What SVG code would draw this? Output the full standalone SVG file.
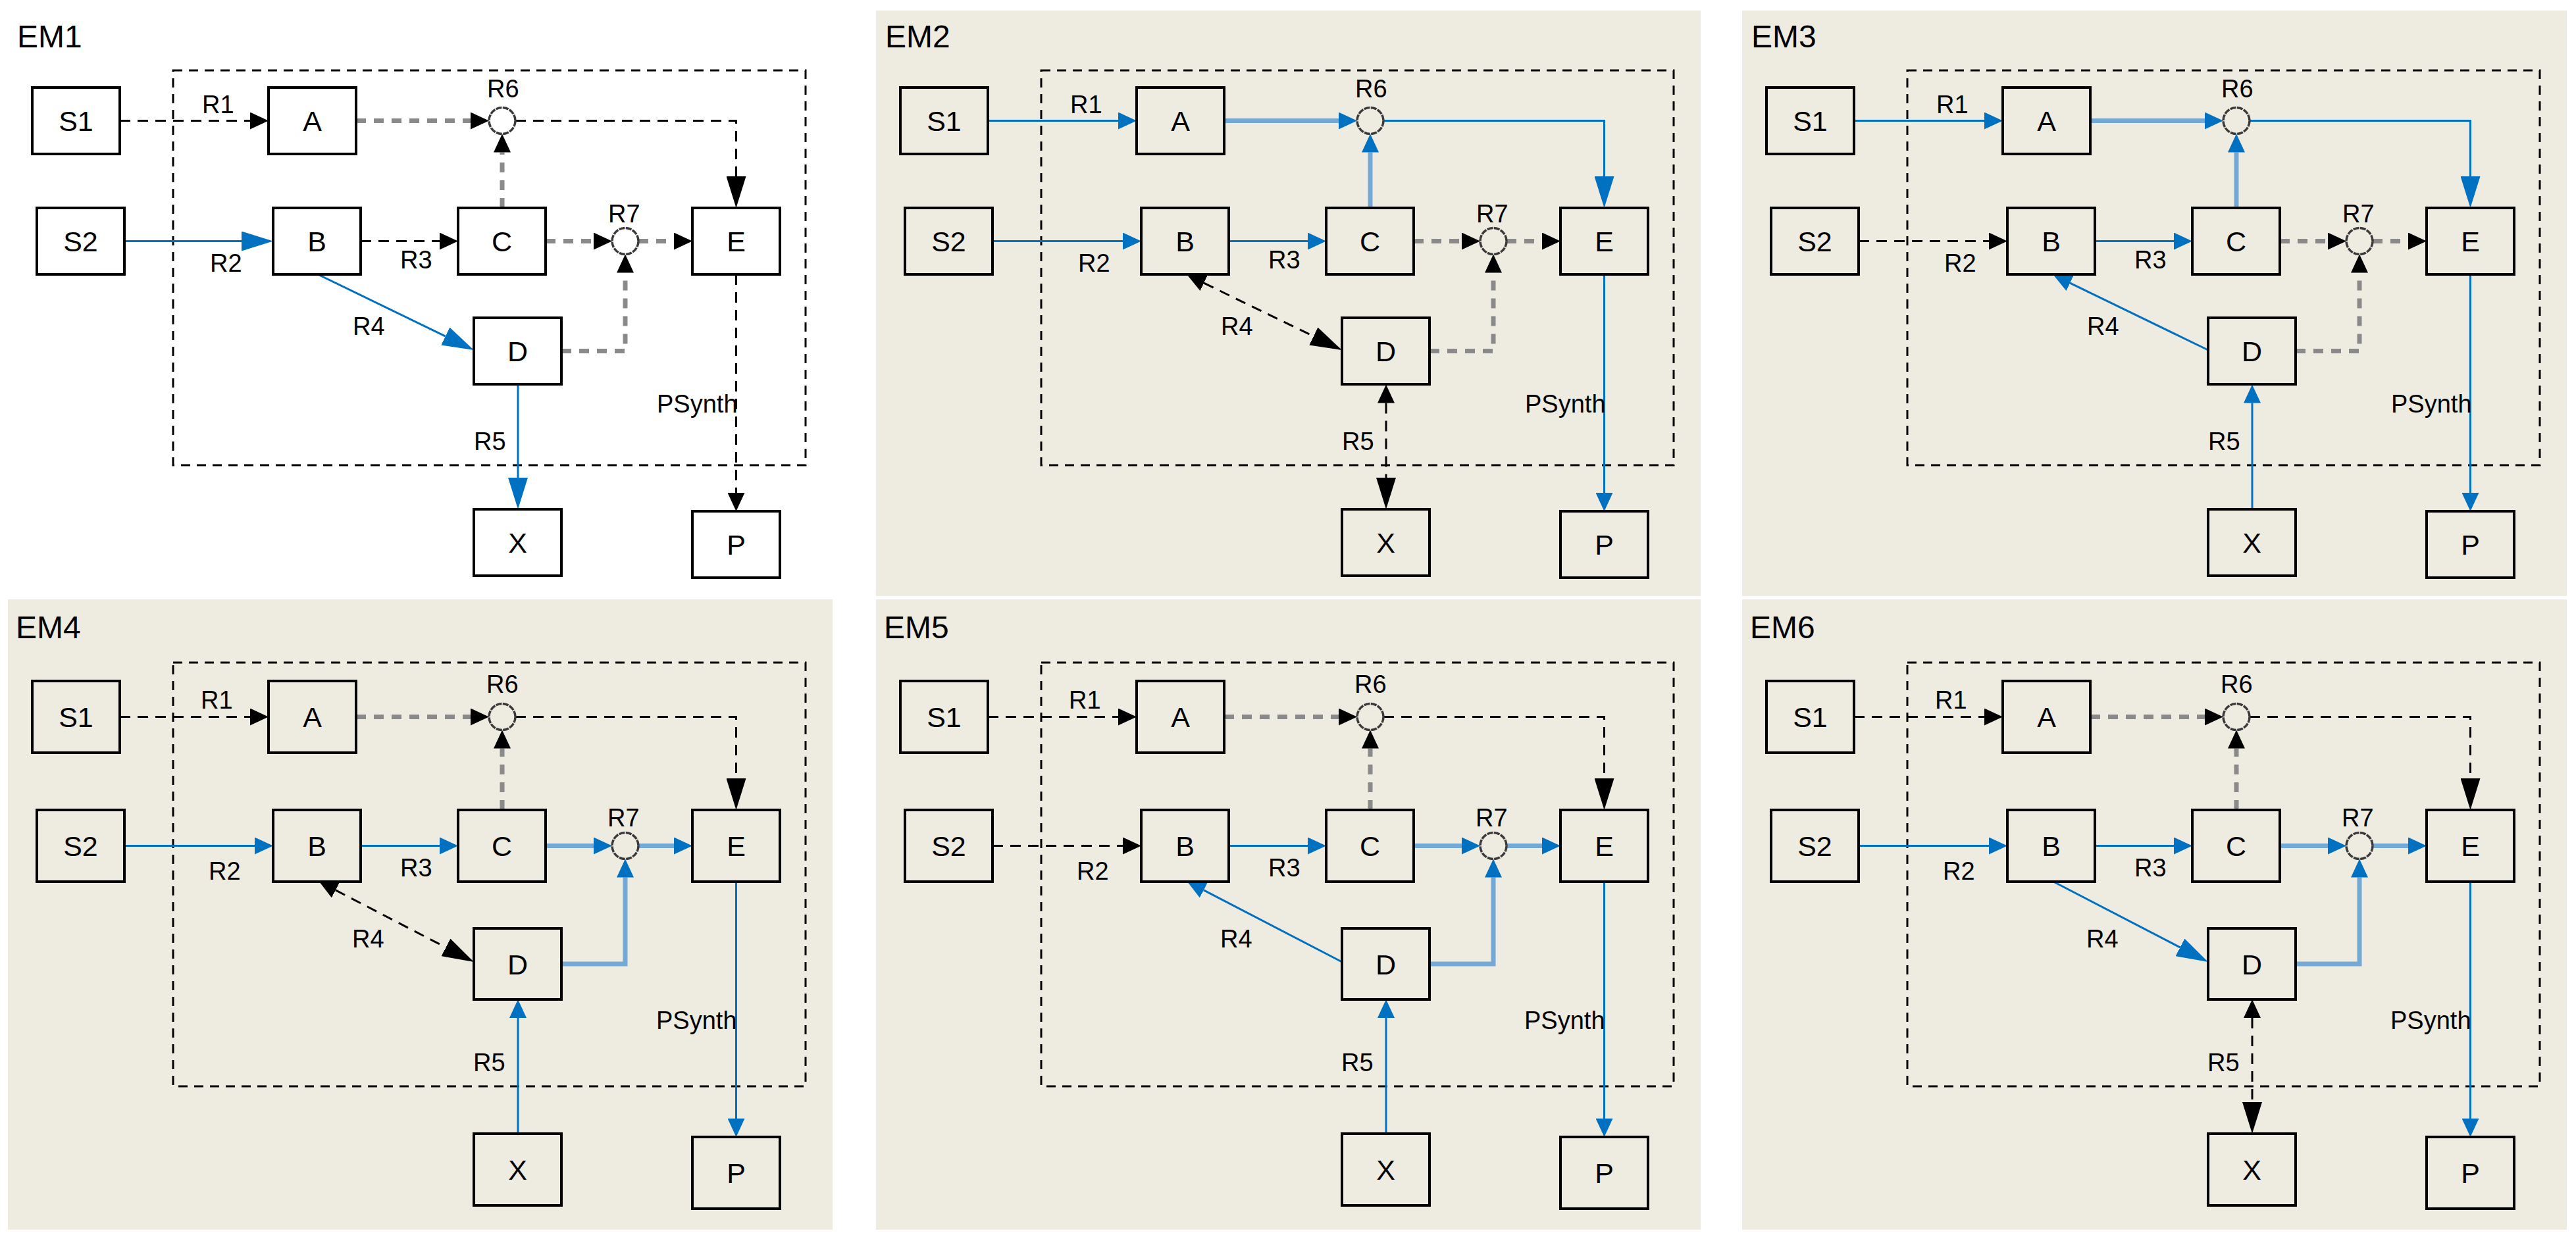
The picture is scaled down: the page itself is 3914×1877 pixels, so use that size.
<svg xmlns="http://www.w3.org/2000/svg" width="3914" height="1877" viewBox="0 0 3914 1877">
<style>
.bg{fill:#EEEBE1;stroke:none}
.box{fill:none;stroke:#000;stroke-width:3;stroke-dasharray:14 10}
.node rect{fill:none;stroke:#000;stroke-width:4}
.node text{font-family:"Liberation Sans",Arial,sans-serif;font-size:43px;text-anchor:middle;fill:#000}
.junc circle{fill:none;stroke:#3A3A3A;stroke-width:3.5;stroke-dasharray:9 1.5}
.lbl{font-family:"Liberation Sans",Arial,sans-serif;font-size:38px;fill:#000}
.title{font-family:"Liberation Sans",Arial,sans-serif;font-size:48px;fill:#000}
.k{fill:none;stroke:#000;stroke-width:3;stroke-dasharray:16 11;marker-end:url(#ak)}
.g{fill:none;stroke:#8A8A8A;stroke-width:7;stroke-dasharray:15 12;marker-end:url(#ak)}
.b{fill:none;stroke:#0070C0;stroke-width:3;marker-end:url(#ab)}
.l{fill:none;stroke:#74A9D6;stroke-width:7;marker-end:url(#ab)}
.dbl{marker-start:url(#ak)}
.bigk{marker-end:url(#akL)}
.bigb{marker-end:url(#abL)}
</style>
<defs>
<marker id="ak" markerUnits="userSpaceOnUse" markerWidth="28" markerHeight="26" viewBox="0 0 28 26" refX="0" refY="13" orient="auto-start-reverse"><path d="M0,0 L28,13 L0,26 Z" fill="#000"/></marker>
<marker id="ab" markerUnits="userSpaceOnUse" markerWidth="28" markerHeight="26" viewBox="0 0 28 26" refX="0" refY="13" orient="auto-start-reverse"><path d="M0,0 L28,13 L0,26 Z" fill="#0070C0"/></marker>
<marker id="akL" markerUnits="userSpaceOnUse" markerWidth="48" markerHeight="30" viewBox="0 0 48 30" refX="0" refY="15" orient="auto-start-reverse"><path d="M0,0 L48,15 L0,30 Z" fill="#000"/></marker>
<marker id="abL" markerUnits="userSpaceOnUse" markerWidth="48" markerHeight="30" viewBox="0 0 48 30" refX="0" refY="15" orient="auto-start-reverse"><path d="M0,0 L48,15 L0,30 Z" fill="#0070C0"/></marker>
</defs>
<rect x="0" y="0" width="3914" height="1877" fill="#fff"/>

<!-- ================= EM1 ================= -->
<g id="em1" transform="translate(12,0)">
<rect class="box" x="251" y="107" width="961" height="600"/>
<g id="em1-connectors">
<path class="k" d="M170,183.5 H368"/>
<path class="b bigb" d="M177,366.5 H355"/>
<path class="k" d="M536,366.5 H656"/>
<path class="g" d="M529,183.5 H703"/>
<path class="g" d="M751,316 V231.5"/>
<path class="k bigk" d="M771,183.5 H1106.5 V268"/>
<path class="g" d="M817,366.5 H890"/>
<path class="g" d="M958,366.5 H1012"/>
<path class="g" d="M841,533.5 H938 V414.5"/>
<path class="k" d="M1106.5,417 V749"/>
<path class="b bigb" d="M473,418 L664.8,511.1"/>
<path class="b bigb" d="M775,584.5 V726"/>
</g>
<g id="em1-S1" class="node"><rect x="37" y="133" width="133" height="101"/><text x="103.5" y="199">S1</text></g>
<g id="em1-A" class="node"><rect x="396" y="133" width="133" height="101"/><text x="462.5" y="199">A</text></g>
<g id="em1-S2" class="node"><rect x="44" y="316" width="133" height="101"/><text x="110.5" y="382">S2</text></g>
<g id="em1-B" class="node"><rect x="403" y="316" width="133" height="101"/><text x="469.5" y="382">B</text></g>
<g id="em1-C" class="node"><rect x="684" y="316" width="133" height="101"/><text x="750.5" y="382">C</text></g>
<g id="em1-E" class="node"><rect x="1040" y="316" width="133" height="101"/><text x="1106.5" y="382">E</text></g>
<g id="em1-D" class="node"><rect x="708" y="483" width="133" height="101"/><text x="774.5" y="549">D</text></g>
<g id="em1-X" class="node"><rect x="708" y="774" width="133" height="101"/><text x="774.5" y="840">X</text></g>
<g id="em1-P" class="node"><rect x="1040" y="777" width="133" height="101"/><text x="1106.5" y="843">P</text></g>
<g id="em1-R6" class="junc"><circle cx="751" cy="183.5" r="20"/></g>
<g id="em1-R7" class="junc"><circle cx="938" cy="366.5" r="20"/></g>
<g id="em1-labels">
<text class="title" x="14" y="72">EM1</text>
<text class="lbl" x="295" y="172">R1</text>
<text class="lbl" x="728" y="148">R6</text>
<text class="lbl" x="307" y="413">R2</text>
<text class="lbl" x="596" y="408">R3</text>
<text class="lbl" x="912" y="338">R7</text>
<text class="lbl" x="524" y="509">R4</text>
<text class="lbl" x="708" y="684">R5</text>
<text class="lbl" x="986" y="627">PSynth</text>
</g>
</g>

<!-- ================= EM2 ================= -->
<g id="em2" transform="translate(1331,0)">
<rect class="bg" x="0" y="16" width="1253" height="890"/>
<rect class="box" x="251" y="107" width="961" height="600"/>
<g id="em2-connectors">
<path class="b" d="M170,183.5 H368"/>
<path class="b" d="M177,366.5 H375"/>
<path class="b" d="M536,366.5 H656"/>
<path class="l" d="M529,183.5 H703"/>
<path class="l" d="M751,316 V231.5"/>
<path class="b bigb" d="M771,183.5 H1106.5 V268"/>
<path class="g" d="M817,366.5 H890"/>
<path class="g" d="M958,366.5 H1012"/>
<path class="g" d="M841,533.5 H938 V414.5"/>
<path class="b" d="M1106.5,417 V749"/>
<path class="k dbl bigk" d="M498.2,430.2 L664.8,511.1"/>
<path class="k dbl bigk" d="M775,612.5 V726"/>
</g>
<g id="em2-S1" class="node"><rect x="37" y="133" width="133" height="101"/><text x="103.5" y="199">S1</text></g>
<g id="em2-A" class="node"><rect x="396" y="133" width="133" height="101"/><text x="462.5" y="199">A</text></g>
<g id="em2-S2" class="node"><rect x="44" y="316" width="133" height="101"/><text x="110.5" y="382">S2</text></g>
<g id="em2-B" class="node"><rect x="403" y="316" width="133" height="101"/><text x="469.5" y="382">B</text></g>
<g id="em2-C" class="node"><rect x="684" y="316" width="133" height="101"/><text x="750.5" y="382">C</text></g>
<g id="em2-E" class="node"><rect x="1040" y="316" width="133" height="101"/><text x="1106.5" y="382">E</text></g>
<g id="em2-D" class="node"><rect x="708" y="483" width="133" height="101"/><text x="774.5" y="549">D</text></g>
<g id="em2-X" class="node"><rect x="708" y="774" width="133" height="101"/><text x="774.5" y="840">X</text></g>
<g id="em2-P" class="node"><rect x="1040" y="777" width="133" height="101"/><text x="1106.5" y="843">P</text></g>
<g id="em2-R6" class="junc"><circle cx="751" cy="183.5" r="20"/></g>
<g id="em2-R7" class="junc"><circle cx="938" cy="366.5" r="20"/></g>
<g id="em2-labels">
<text class="title" x="14" y="72">EM2</text>
<text class="lbl" x="295" y="172">R1</text>
<text class="lbl" x="728" y="148">R6</text>
<text class="lbl" x="307" y="413">R2</text>
<text class="lbl" x="596" y="408">R3</text>
<text class="lbl" x="912" y="338">R7</text>
<text class="lbl" x="524" y="509">R4</text>
<text class="lbl" x="708" y="684">R5</text>
<text class="lbl" x="986" y="627">PSynth</text>
</g>
</g>

<!-- ================= EM3 ================= -->
<g id="em3" transform="translate(2647,0)">
<rect class="bg" x="0" y="16" width="1253" height="890"/>
<rect class="box" x="251" y="107" width="961" height="600"/>
<g id="em3-connectors">
<path class="b" d="M170,183.5 H368"/>
<path class="k" d="M177,366.5 H375"/>
<path class="b" d="M536,366.5 H656"/>
<path class="l" d="M529,183.5 H703"/>
<path class="l" d="M751,316 V231.5"/>
<path class="b bigb" d="M771,183.5 H1106.5 V268"/>
<path class="g" d="M817,366.5 H890"/>
<path class="g" d="M958,366.5 H1012"/>
<path class="g" d="M841,533.5 H938 V414.5"/>
<path class="b" d="M1106.5,417 V749"/>
<path class="b" d="M708,532 L498.2,430.2"/>
<path class="b" d="M775,774 V612.5"/>
</g>
<g id="em3-S1" class="node"><rect x="37" y="133" width="133" height="101"/><text x="103.5" y="199">S1</text></g>
<g id="em3-A" class="node"><rect x="396" y="133" width="133" height="101"/><text x="462.5" y="199">A</text></g>
<g id="em3-S2" class="node"><rect x="44" y="316" width="133" height="101"/><text x="110.5" y="382">S2</text></g>
<g id="em3-B" class="node"><rect x="403" y="316" width="133" height="101"/><text x="469.5" y="382">B</text></g>
<g id="em3-C" class="node"><rect x="684" y="316" width="133" height="101"/><text x="750.5" y="382">C</text></g>
<g id="em3-E" class="node"><rect x="1040" y="316" width="133" height="101"/><text x="1106.5" y="382">E</text></g>
<g id="em3-D" class="node"><rect x="708" y="483" width="133" height="101"/><text x="774.5" y="549">D</text></g>
<g id="em3-X" class="node"><rect x="708" y="774" width="133" height="101"/><text x="774.5" y="840">X</text></g>
<g id="em3-P" class="node"><rect x="1040" y="777" width="133" height="101"/><text x="1106.5" y="843">P</text></g>
<g id="em3-R6" class="junc"><circle cx="751" cy="183.5" r="20"/></g>
<g id="em3-R7" class="junc"><circle cx="938" cy="366.5" r="20"/></g>
<g id="em3-labels">
<text class="title" x="14" y="72">EM3</text>
<text class="lbl" x="295" y="172">R1</text>
<text class="lbl" x="728" y="148">R6</text>
<text class="lbl" x="307" y="413">R2</text>
<text class="lbl" x="596" y="408">R3</text>
<text class="lbl" x="912" y="338">R7</text>
<text class="lbl" x="524" y="509">R4</text>
<text class="lbl" x="708" y="684">R5</text>
<text class="lbl" x="986" y="627">PSynth</text>
</g>
</g>

<!-- ================= EM4 ================= -->
<g id="em4" transform="translate(12,0)">
<rect class="bg" x="0" y="911" width="1253" height="958"/>
<rect class="box" x="251" y="1007" width="961" height="644"/>
<g id="em4-connectors">
<path class="k" d="M170,1089.5 H368"/>
<path class="b" d="M177,1285.5 H375"/>
<path class="b" d="M536,1285.5 H656"/>
<path class="g" d="M529,1089.5 H703"/>
<path class="g" d="M751,1231 V1137.5"/>
<path class="k bigk" d="M771,1089.5 H1106.5 V1183"/>
<path class="l" d="M817,1285.5 H890"/>
<path class="l" d="M958,1285.5 H1012"/>
<path class="l" d="M841,1465 H938 V1333.5"/>
<path class="b" d="M1106.5,1340 V1700"/>
<path class="k dbl bigk" d="M497.9,1352.9 L665.4,1439.9"/>
<path class="b" d="M775,1723 V1547"/>
</g>
<g id="em4-S1" class="node"><rect x="37" y="1035" width="133" height="109"/><text x="103.5" y="1105">S1</text></g>
<g id="em4-A" class="node"><rect x="396" y="1035" width="133" height="109"/><text x="462.5" y="1105">A</text></g>
<g id="em4-S2" class="node"><rect x="44" y="1231" width="133" height="109"/><text x="110.5" y="1301">S2</text></g>
<g id="em4-B" class="node"><rect x="403" y="1231" width="133" height="109"/><text x="469.5" y="1301">B</text></g>
<g id="em4-C" class="node"><rect x="684" y="1231" width="133" height="109"/><text x="750.5" y="1301">C</text></g>
<g id="em4-E" class="node"><rect x="1040" y="1231" width="133" height="109"/><text x="1106.5" y="1301">E</text></g>
<g id="em4-D" class="node"><rect x="708" y="1411" width="133" height="108"/><text x="774.5" y="1480.5">D</text></g>
<g id="em4-X" class="node"><rect x="708" y="1723" width="133" height="109"/><text x="774.5" y="1793">X</text></g>
<g id="em4-P" class="node"><rect x="1040" y="1728" width="133" height="109"/><text x="1106.5" y="1798">P</text></g>
<g id="em4-R6" class="junc"><circle cx="751" cy="1089.5" r="20"/></g>
<g id="em4-R7" class="junc"><circle cx="938" cy="1285.5" r="20"/></g>
<g id="em4-labels">
<text class="title" x="12" y="970">EM4</text>
<text class="lbl" x="293" y="1077">R1</text>
<text class="lbl" x="727" y="1053">R6</text>
<text class="lbl" x="305" y="1337">R2</text>
<text class="lbl" x="596" y="1332">R3</text>
<text class="lbl" x="911" y="1256">R7</text>
<text class="lbl" x="523" y="1440">R4</text>
<text class="lbl" x="707" y="1628">R5</text>
<text class="lbl" x="985" y="1564">PSynth</text>
</g>
</g>

<!-- ================= EM5 ================= -->
<g id="em5" transform="translate(1331,0)">
<rect class="bg" x="0" y="911" width="1253" height="958"/>
<rect class="box" x="251" y="1007" width="961" height="644"/>
<g id="em5-connectors">
<path class="k" d="M170,1089.5 H368"/>
<path class="k" d="M177,1285.5 H375"/>
<path class="b" d="M536,1285.5 H656"/>
<path class="g" d="M529,1089.5 H703"/>
<path class="g" d="M751,1231 V1137.5"/>
<path class="k bigk" d="M771,1089.5 H1106.5 V1183"/>
<path class="l" d="M817,1285.5 H890"/>
<path class="l" d="M958,1285.5 H1012"/>
<path class="l" d="M841,1465 H938 V1333.5"/>
<path class="b" d="M1106.5,1340 V1700"/>
<path class="b" d="M708,1462 L497.9,1352.9"/>
<path class="b" d="M775,1723 V1547"/>
</g>
<g id="em5-S1" class="node"><rect x="37" y="1035" width="133" height="109"/><text x="103.5" y="1105">S1</text></g>
<g id="em5-A" class="node"><rect x="396" y="1035" width="133" height="109"/><text x="462.5" y="1105">A</text></g>
<g id="em5-S2" class="node"><rect x="44" y="1231" width="133" height="109"/><text x="110.5" y="1301">S2</text></g>
<g id="em5-B" class="node"><rect x="403" y="1231" width="133" height="109"/><text x="469.5" y="1301">B</text></g>
<g id="em5-C" class="node"><rect x="684" y="1231" width="133" height="109"/><text x="750.5" y="1301">C</text></g>
<g id="em5-E" class="node"><rect x="1040" y="1231" width="133" height="109"/><text x="1106.5" y="1301">E</text></g>
<g id="em5-D" class="node"><rect x="708" y="1411" width="133" height="108"/><text x="774.5" y="1480.5">D</text></g>
<g id="em5-X" class="node"><rect x="708" y="1723" width="133" height="109"/><text x="774.5" y="1793">X</text></g>
<g id="em5-P" class="node"><rect x="1040" y="1728" width="133" height="109"/><text x="1106.5" y="1798">P</text></g>
<g id="em5-R6" class="junc"><circle cx="751" cy="1089.5" r="20"/></g>
<g id="em5-R7" class="junc"><circle cx="938" cy="1285.5" r="20"/></g>
<g id="em5-labels">
<text class="title" x="12" y="970">EM5</text>
<text class="lbl" x="293" y="1077">R1</text>
<text class="lbl" x="727" y="1053">R6</text>
<text class="lbl" x="305" y="1337">R2</text>
<text class="lbl" x="596" y="1332">R3</text>
<text class="lbl" x="911" y="1256">R7</text>
<text class="lbl" x="523" y="1440">R4</text>
<text class="lbl" x="707" y="1628">R5</text>
<text class="lbl" x="985" y="1564">PSynth</text>
</g>
</g>

<!-- ================= EM6 ================= -->
<g id="em6" transform="translate(2647,0)">
<rect class="bg" x="0" y="911" width="1253" height="958"/>
<rect class="box" x="251" y="1007" width="961" height="644"/>
<g id="em6-connectors">
<path class="k" d="M170,1089.5 H368"/>
<path class="b" d="M177,1285.5 H375"/>
<path class="b" d="M536,1285.5 H656"/>
<path class="g" d="M529,1089.5 H703"/>
<path class="g" d="M751,1231 V1137.5"/>
<path class="k bigk" d="M771,1089.5 H1106.5 V1183"/>
<path class="l" d="M817,1285.5 H890"/>
<path class="l" d="M958,1285.5 H1012"/>
<path class="l" d="M841,1465 H938 V1333.5"/>
<path class="b" d="M1106.5,1340 V1700"/>
<path class="b bigb" d="M473,1340 L665.4,1439.9"/>
<path class="k dbl bigk" d="M775,1547 V1675"/>
</g>
<g id="em6-S1" class="node"><rect x="37" y="1035" width="133" height="109"/><text x="103.5" y="1105">S1</text></g>
<g id="em6-A" class="node"><rect x="396" y="1035" width="133" height="109"/><text x="462.5" y="1105">A</text></g>
<g id="em6-S2" class="node"><rect x="44" y="1231" width="133" height="109"/><text x="110.5" y="1301">S2</text></g>
<g id="em6-B" class="node"><rect x="403" y="1231" width="133" height="109"/><text x="469.5" y="1301">B</text></g>
<g id="em6-C" class="node"><rect x="684" y="1231" width="133" height="109"/><text x="750.5" y="1301">C</text></g>
<g id="em6-E" class="node"><rect x="1040" y="1231" width="133" height="109"/><text x="1106.5" y="1301">E</text></g>
<g id="em6-D" class="node"><rect x="708" y="1411" width="133" height="108"/><text x="774.5" y="1480.5">D</text></g>
<g id="em6-X" class="node"><rect x="708" y="1723" width="133" height="109"/><text x="774.5" y="1793">X</text></g>
<g id="em6-P" class="node"><rect x="1040" y="1728" width="133" height="109"/><text x="1106.5" y="1798">P</text></g>
<g id="em6-R6" class="junc"><circle cx="751" cy="1089.5" r="20"/></g>
<g id="em6-R7" class="junc"><circle cx="938" cy="1285.5" r="20"/></g>
<g id="em6-labels">
<text class="title" x="12" y="970">EM6</text>
<text class="lbl" x="293" y="1077">R1</text>
<text class="lbl" x="727" y="1053">R6</text>
<text class="lbl" x="305" y="1337">R2</text>
<text class="lbl" x="596" y="1332">R3</text>
<text class="lbl" x="911" y="1256">R7</text>
<text class="lbl" x="523" y="1440">R4</text>
<text class="lbl" x="707" y="1628">R5</text>
<text class="lbl" x="985" y="1564">PSynth</text>
</g>
</g>
</svg>
